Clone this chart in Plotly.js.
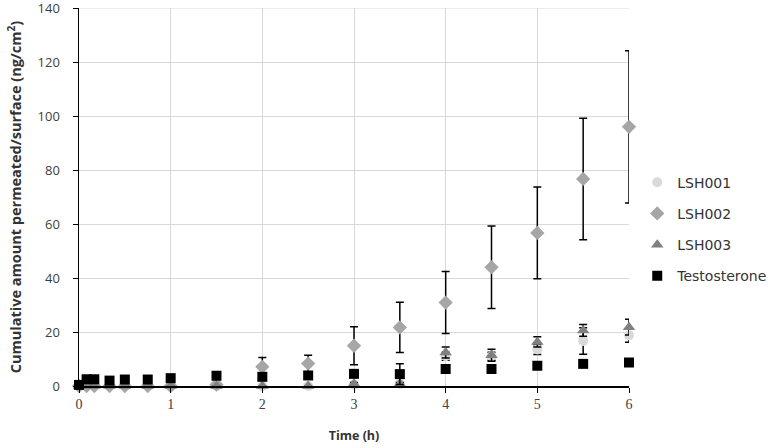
<!DOCTYPE html>
<html>
<head>
<meta charset="utf-8">
<script src="https://cdn.plot.ly/plotly-3.0.1.min.js"></script>
<style>html,body{margin:0;padding:0;background:#fff;} #chart{width:771px;height:448px;}</style>
</head>
<body>
<div id="chart"></div>
<script>
const time = [0, 0.083, 0.167, 0.333, 0.5, 0.75, 1, 1.5, 2, 2.5, 3, 3.5, 4, 4.5, 5, 5.5, 6];

const lsh001 = [0, 0, 0, 0, 0, 0, 0, 0, 0, 0, 0.5, 0.8, 11.0, 11.0, 13.5, 16.7, 18.8];
const lsh001Err = [0, 0, 0, 0, 0, 0, 0, 0, 0, 0, 0.5, 0.5, 1.5, 1.5, 1.8, 4.9, 2.6];

const lsh002 = [0, 0, 0, 0, 0, 0, 0, 0.5, 7.1, 8.3, 14.9, 21.7, 30.9, 44.0, 56.7, 76.7, 96.0];
const lsh002Err = [0, 0, 0, 0, 0, 0, 0, 0.5, 3.5, 3.1, 7.0, 9.3, 11.5, 15.3, 17.0, 22.5, 28.2];

const lsh003 = [0, 0, 0, 0, 0, 0, 0, 0, 0, 0, 0.8, 0.8, 12.4, 11.4, 16.3, 20.6, 21.8];
const lsh003Err = [0, 0, 0, 0, 0, 0, 0, 0, 0, 0, 0.5, 0.5, 2.0, 2.2, 1.9, 2.2, 2.9];

const testo = [0.4, 2.5, 2.5, 2.0, 2.4, 2.4, 2.9, 3.8, 3.4, 3.9, 4.5, 4.4, 6.3, 6.3, 7.5, 8.2, 8.7];
const testoErr = [0.2, 0.3, 0.3, 0.3, 0.3, 0.3, 0.4, 0.8, 0.6, 0.6, 0.8, 3.8, 0.8, 0.8, 0.8, 0.9, 0.9];

const names = ['LSH001', 'LSH002', 'LSH003', 'Testosterone'];
const yTickVals = [0, 20, 40, 60, 80, 100, 120, 140];
const xTickVals = [0, 1, 2, 3, 4, 5, 6];

function mk(name, y, err, color, symbol, size, grp) {
  return {
    x: time, y: y, name: name, type: 'scatter', mode: 'markers',
    legendgroup: grp,
    cliponaxis: false,
    marker: {color: color, symbol: symbol, size: size, line: {width: 0}},
    error_y: {type: 'data', array: err, visible: true, color: '#000000', thickness: 1.5, width: 4}
  };
}

const data = [
  mk(names[0], lsh001, lsh001Err, '#d9d9d9', 'circle', 10, 'a'),
  mk(names[1], lsh002, lsh002Err, '#a6a6a6', 'diamond', 11, 'b'),
  mk(names[2], lsh003, lsh003Err, '#808080', 'triangle-up', 11, 'c'),
  mk(names[3], testo, testoErr, '#000000', 'square', 10, 'd')
];

const layout = {
  width: 771, height: 448,
  margin: {l: 79, r: 142, t: 8, b: 62, autoexpand: false},
  paper_bgcolor: '#ffffff', plot_bgcolor: '#ffffff',
  showlegend: true,
  legend: {
    x: 1.015, xanchor: 'left', xref: 'paper',
    y: 0.415, yanchor: 'middle',
    font: {family: 'DejaVu Sans, sans-serif', size: 14, color: '#333333'},
    tracegroupgap: 10,
    itemwidth: 30,
    bgcolor: 'rgba(0,0,0,0)',
    borderwidth: 0
  },
  xaxis: {
    range: [0, 6], tickvals: xTickVals, ticktext: xTickVals.map(String),
    showgrid: true, gridcolor: '#d9d9d9', gridwidth: 1,
    zeroline: false, showline: true, linecolor: '#000000', linewidth: 1.5,
    ticks: 'outside', ticklen: 5, tickcolor: '#000000', tickwidth: 1,
    tickfont: {family: 'Liberation Serif, DejaVu Serif, serif', size: 14, color: '#404040'},
    title: {text: '<b>Time (h)</b>', font: {family: 'Open Sans, sans-serif', size: 12.5, color: '#333333'}, standoff: 20}
  },
  yaxis: {
    range: [0, 140], tickvals: yTickVals,
    showgrid: true, gridcolor: '#d9d9d9', gridwidth: 1,
    zeroline: false, showline: true, linecolor: '#000000', linewidth: 1.5,
    ticks: 'outside', ticklen: 5, tickcolor: '#000000', tickwidth: 1,
    ticklabelstandoff: 10,
    ticklabeloverflow: 'allow',
    tickfont: {family: 'Open Sans, sans-serif', size: 13, color: '#404040'},
    title: {text: '<b>Cumulative amount permeated/surface (ng/cm<sup>2</sup>)</b>', font: {family: 'Open Sans, sans-serif', size: 14.5, color: '#333333'}, standoff: 12}
  },
  shapes: [
    {type: 'line', xref: 'paper', yref: 'y', x0: 0, x1: 1, y0: 140, y1: 140, line: {color: '#d9d9d9', width: 1}, layer: 'below'}
  ]
};

Plotly.newPlot('chart', data, layout, {displayModeBar: false, staticPlot: true});
</script>
</body>
</html>
